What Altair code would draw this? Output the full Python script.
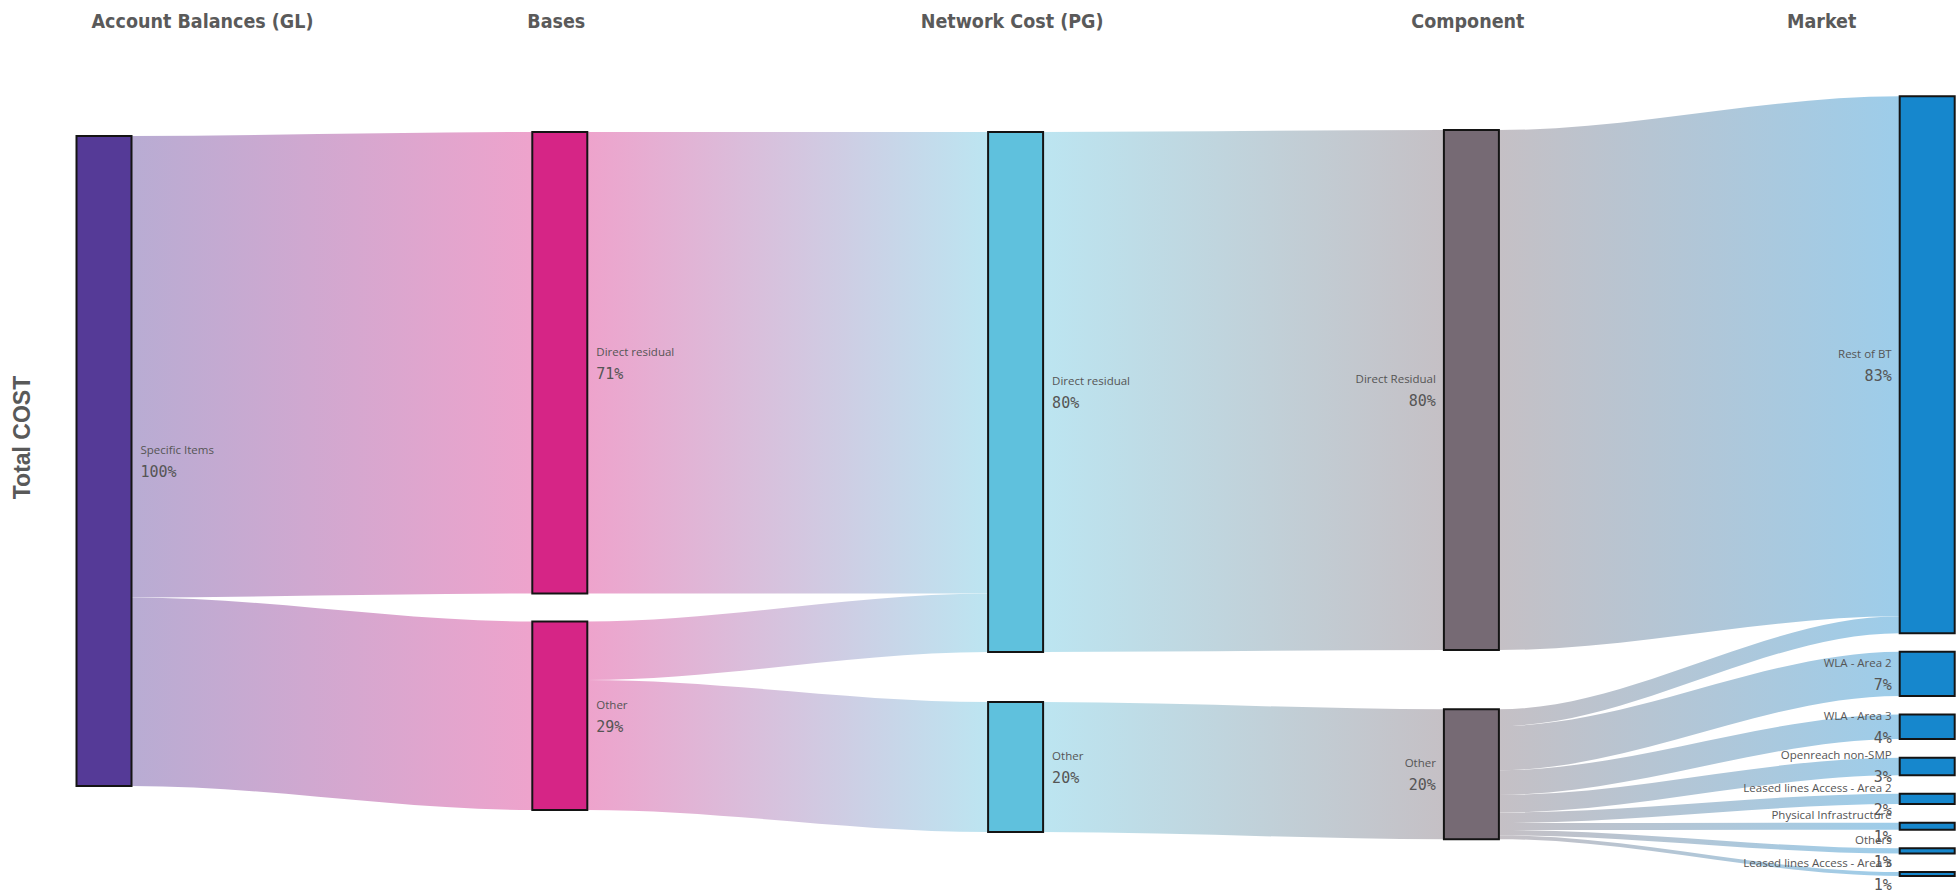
import altair as alt
import pandas as pd

# ---------------- data ----------------
columns = ["Account Balances (GL)", "Bases", "Network Cost (PG)", "Component", "Market"]

nodes_gl = ["Specific Items"]
values_gl = [100]
nodes_bases = ["Direct residual", "Other"]
values_bases = [71, 29]
nodes_pg = ["Direct residual", "Other"]
values_pg = [80, 20]
nodes_comp = ["Direct Residual", "Other"]
values_comp = [80, 20]
nodes_market = ["Rest of BT", "WLA - Area 2", "WLA - Area 3", "Openreach non-SMP",
                "Leased lines Access - Area 2", "Physical Infrastructure", "Others",
                "Leased lines Access - Area 3"]
values_market = [82.6, 6.8, 3.8, 2.7, 1.6, 1.1, 0.8, 0.6]

# flows between neighbouring columns: source column, source node, target node, value
flow_col = [0, 0, 1, 1, 1, 2, 2, 3, 3, 3, 3, 3, 3, 3, 3, 3]
flow_src = [0, 0, 0, 1, 1, 0, 1, 0, 1, 1, 1, 1, 1, 1, 1, 1]
flow_tgt = [0, 1, 0, 0, 1, 0, 1, 0, 0, 1, 2, 3, 4, 5, 6, 7]
flow_val = [71, 29, 71, 9, 20, 80, 20, 80, 2.6, 6.8, 3.8, 2.7, 1.6, 1.1, 0.8, 0.6]

# ---------------- style / layout ----------------
col_colors = ["#553a97", "#d62586", "#5fc1dd", "#766a74", "#1687cd"]
col_top = [8.6, 8.0, 8.0, 7.7, 2.5]      # top offset of each column (value units)
col_gap = [0.0, 4.3, 7.7, 9.1, 2.85]     # gap between nodes (value units)
PX_PER_UNIT = 6.5
COL_PX = 455.8
PLOT_W, PLOT_H = 1900, 812
PAD_L, PAD_T = 60, 80
HW = 27.5 / COL_PX                       # node half width in column units
X_MIN = -44 / COL_PX
X_MAX = X_MIN + PLOT_W / COL_PX
Y_MAX = PLOT_H / PX_PER_UNIT

col_nodes = [nodes_gl, nodes_bases, nodes_pg, nodes_comp, nodes_market]
col_values = [values_gl, values_bases, values_pg, values_comp, values_market]


def lighten(hex_color, a=0.42):
    h = hex_color.lstrip("#")
    r, g, b = (int(h[i:i + 2], 16) for i in (0, 2, 4))
    mix = lambda c: round(a * c + (1 - a) * 255)
    return "#{:02x}{:02x}{:02x}".format(mix(r), mix(g), mix(b))


# node layout
node_rows = []
node_pos = {}
for c, (names, vals) in enumerate(zip(col_nodes, col_values)):
    y = col_top[c]
    for i, (n, v) in enumerate(zip(names, vals)):
        node_pos[(c, i)] = y
        node_rows.append(dict(col=c, name=n, value=v, pct=f"{round(v)}%",
                              x0=c - HW, x1=c + HW, y0=y, y1=y + v,
                              ym=y + v / 2, color=col_colors[c],
                              side="right" if c < 3 else "left"))
        y += v + col_gap[c]
nodes_df = pd.DataFrame(node_rows)

# flow layout (stacked within source and target nodes)
out_cur = dict(node_pos)
in_cur = dict(node_pos)
src_y, tgt_y = {}, {}
for k in sorted(range(len(flow_val)), key=lambda k: (flow_col[k], flow_src[k], flow_tgt[k])):
    key = (flow_col[k], flow_src[k])
    src_y[k] = out_cur[key]
    out_cur[key] += flow_val[k]
for k in sorted(range(len(flow_val)), key=lambda k: (flow_col[k], flow_tgt[k], flow_src[k])):
    key = (flow_col[k] + 1, flow_tgt[k])
    tgt_y[k] = in_cur[key]
    in_cur[key] += flow_val[k]
flow_rows = []
for k in range(len(flow_val)):
    c = flow_col[k]
    a, b, v = src_y[k], tgt_y[k], flow_val[k]
    for x, y in [(c, a), (c + HW, a), (c + 1 - HW, b), (c + 1, b)]:
        flow_rows.append(dict(flow=k, col=c, x=x, y=y, y2=y + v))
flows_df = pd.DataFrame(flow_rows)

# ---------------- encodings ----------------
label_expr = "[" + ",".join("'" + t + "'" for t in columns) + "][datum.value]"
x_axis = alt.Axis(orient="top", values=[0, 1, 2, 3, 4], labelExpr=label_expr, title=None,
                  domain=False, ticks=False, tickSize=0, grid=False, labelPadding=53,
                  labelBaseline="alphabetic", labelAngle=0, labelOverlap=False,
                  labelBound=False, labelFlush=False, labelLimit=600,
                  labelFont="'DejaVu Sans Condensed', 'Liberation Sans Narrow', sans-serif",
                  labelFontSize=19.5, labelFontWeight="bold", labelColor="#5a5a5a",
                  labelOffset={"condition": [{"test": "datum.value == 0", "value": 98},
                                             {"test": "datum.value == 4", "value": -106}],
                               "value": -4})
x_scale = alt.Scale(domain=[X_MIN, X_MAX], nice=False, zero=False)
y_scale = alt.Scale(domain=[0, Y_MAX], nice=False, zero=False, reverse=True)
y_axis = alt.Axis(title="Total COST", labels=False, ticks=False, domain=False, grid=False,
                  titleFont="Liberation Sans", titleFontSize=23, titleFontWeight="bold",
                  titleColor="#595959", titlePadding=26, titleY=357)


def X(field):
    return alt.X(field, type="quantitative", scale=x_scale, axis=x_axis)


def Y(field):
    return alt.Y(field, type="quantitative", scale=y_scale, axis=y_axis)


layers = []
for c in range(4):
    grad = alt.LinearGradient(
        gradient="linear", x1=0, x2=1, y1=0, y2=0,
        stops=[alt.GradientStop(color=lighten(col_colors[c]), offset=HW),
               alt.GradientStop(color=lighten(col_colors[c + 1]), offset=1 - HW)])
    layers.append(
        alt.Chart(flows_df[flows_df.col == c]).mark_area(
            interpolate="monotone", fill=grad, strokeWidth=0)
        .encode(x=X("x"), y=Y("y"), y2="y2", detail="flow:N")
    )

layers.append(
    alt.Chart(nodes_df).mark_rect(stroke="#141414", strokeWidth=2)
    .encode(x=X("x0"), x2="x1", y=Y("y0"), y2="y1",
            fill=alt.Color("color:N", scale=None))
)

name_font = "'Open Sans', sans-serif"
pct_font = "'DejaVu Sans Mono', monospace"
for side, field, align, dx in [("right", "x1", "left", 9), ("left", "x0", "right", -8)]:
    d = nodes_df[nodes_df.side == side]
    layers.append(
        alt.Chart(d).mark_text(align=align, baseline="middle", dx=dx, dy=-10,
                               font=name_font, fontSize=11.5, color="#555555")
        .encode(x=X(field), y=Y("ym"), text="name:N")
    )
    layers.append(
        alt.Chart(d).mark_text(align=align, baseline="middle", dx=dx, dy=11,
                               font=pct_font, fontSize=15, color="#555555")
        .encode(x=X(field), y=Y("ym"), text="pct:N")
    )

chart = alt.layer(*layers).properties(
    width=PLOT_W, height=PLOT_H,
    padding={"left": PAD_L, "top": PAD_T, "right": 0, "bottom": 0},
    autosize=alt.AutoSizeParams(type="none"),
    background="white",
).configure_view(stroke=None)

chart.save("out.html", embed_options={"renderer": "svg", "actions": False})
